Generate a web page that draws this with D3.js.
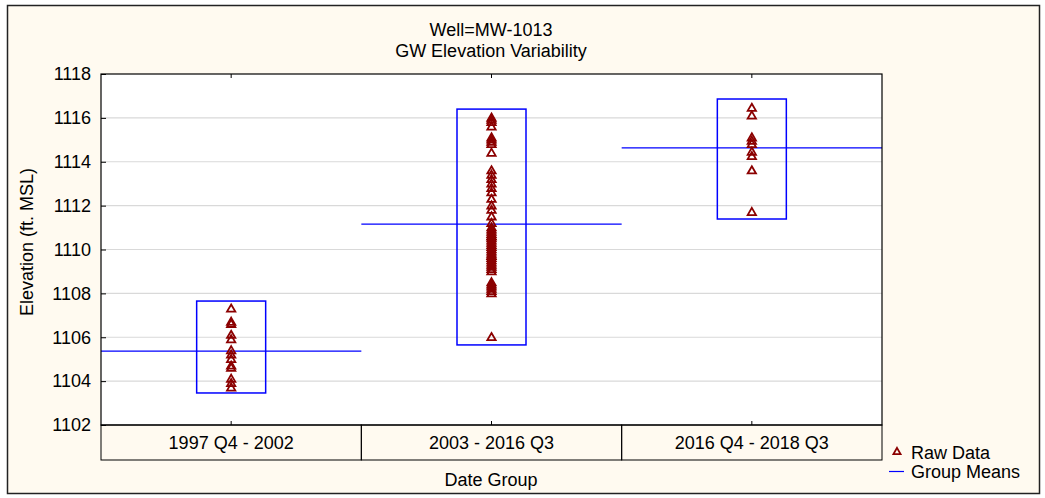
<!DOCTYPE html>
<html>
<head>
<meta charset="utf-8">
<script src="https://cdn.jsdelivr.net/npm/d3@7"></script>
<style>
  html, body { margin: 0; padding: 0; background: #ffffff; }
  svg { display: block; font-family: "Liberation Sans", Arial, sans-serif; }
</style>
</head>
<body>
<svg id="chart" width="1045" height="498"></svg>
<script>
// ---- data ----
const titleLines = ["Well=MW-1013", "GW Elevation Variability"];
const categories = ["1997 Q4 - 2002", "2003 - 2016 Q3", "2016 Q4 - 2018 Q3"];
const group1 = [1107.3, 1106.7, 1106.6, 1106.1, 1105.9, 1105.4, 1105.2, 1105.0, 1104.7, 1104.6, 1104.1, 1103.9, 1103.7];
const group2 = [1116.0, 1115.9, 1115.8, 1115.6, 1115.1, 1115.0, 1114.9, 1114.8, 1114.4, 1113.6, 1113.4, 1113.2,
                1113.0, 1112.8, 1112.6, 1112.3, 1112.0, 1111.8, 1111.5, 1111.2, 1111.0, 1110.9, 1110.8, 1110.7,
                1110.6, 1110.6, 1110.5, 1110.4, 1110.3, 1110.2, 1110.1, 1110.0, 1109.9, 1109.8, 1109.7, 1109.7,
                1109.6, 1109.5, 1109.4, 1109.3, 1109.2, 1109.1, 1109.0, 1108.5, 1108.4, 1108.3, 1108.2, 1108.1,
                1108.0, 1106.0];
const group3 = [1116.45, 1116.1, 1115.1, 1114.95, 1114.8, 1114.45, 1114.25, 1113.6, 1111.7];
const groupMeans = [1105.37, 1111.16, 1114.63];
const boxHigh = [1107.65, 1116.4, 1116.86];
const boxLow = [1103.46, 1105.65, 1111.39];
const yTicks = [1102, 1104, 1106, 1108, 1110, 1112, 1114, 1116, 1118];
const yLabel = "Elevation (ft. MSL)";
const xLabel = "Date Group";
const legendLabels = ["Raw Data", "Group Means"];

// ---- layout ----
const svg = d3.select("#chart");
const W = 1045, H = 498;
const plot = { left: 101, right: 882, top: 74, bottom: 425 };
const catBandBottom = 460;
const red = "#8b0000", blue = "#0000ff";
const FS = 18;

// background + frame
svg.append("rect").attr("x", 0).attr("y", 0).attr("width", W).attr("height", H).attr("fill", "#ffffff");
svg.append("rect").attr("x", 7.5).attr("y", 5.5).attr("width", 1032).attr("height", 488)
  .attr("fill", "#fffaf0").attr("stroke", "#222").attr("stroke-width", 1.5);

const x = d3.scaleBand().domain(categories).range([plot.left, plot.right]).padding(0);
const y = d3.scaleLinear().domain([1102, 1118]).range([plot.bottom, plot.top]);

// plot background
svg.append("rect").attr("x", plot.left).attr("y", plot.top)
  .attr("width", plot.right - plot.left).attr("height", plot.bottom - plot.top)
  .attr("fill", "#ffffff");

// gridlines
svg.append("g").selectAll("line").data(yTicks.filter(t => t > 1102 && t < 1118)).join("line")
  .attr("x1", plot.left).attr("x2", plot.right)
  .attr("y1", d => y(d)).attr("y2", d => y(d))
  .attr("stroke", "#d9d9d9").attr("stroke-width", 1.2);

// y axis
const yAxis = d3.axisLeft(y).tickValues(yTicks).tickFormat(d3.format("d"))
  .tickSizeInner(-5).tickSizeOuter(0).tickPadding(10);
const gy = svg.append("g").attr("transform", `translate(${plot.left},0)`).call(yAxis);
gy.select(".domain").remove();
gy.selectAll("line").attr("stroke", "#000");
gy.selectAll("text").attr("font-size", FS).attr("fill", "#000")
  .attr("font-family", "Liberation Sans, Arial, sans-serif");

// category label band
const gCat = svg.append("g");
gCat.selectAll("rect").data(categories).join("rect")
  .attr("x", d => x(d)).attr("y", plot.bottom)
  .attr("width", x.bandwidth()).attr("height", catBandBottom - plot.bottom)
  .attr("fill", "none").attr("stroke", "#000").attr("stroke-width", 1);
gCat.selectAll("text").data(categories).join("text")
  .attr("x", d => x(d) + x.bandwidth() / 2).attr("y", (plot.bottom + catBandBottom) / 2 + 6.5)
  .attr("text-anchor", "middle").attr("font-size", FS).text(d => d);

// x ticks at top and bottom
svg.append("g").selectAll("line").data(categories).join("line")
  .attr("x1", d => x(d) + x.bandwidth() / 2).attr("x2", d => x(d) + x.bandwidth() / 2)
  .attr("y1", plot.top).attr("y2", plot.top + 4).attr("stroke", "#000");
svg.append("g").selectAll("line").data(categories).join("line")
  .attr("x1", d => x(d) + x.bandwidth() / 2).attr("x2", d => x(d) + x.bandwidth() / 2)
  .attr("y1", plot.bottom).attr("y2", plot.bottom - 4).attr("stroke", "#000");

// boxes
const boxHalf = 34.5;
svg.append("g").selectAll("rect").data(categories).join("rect")
  .attr("x", d => x(d) + x.bandwidth() / 2 - boxHalf)
  .attr("y", (d, i) => y(boxHigh[i]))
  .attr("width", boxHalf * 2)
  .attr("height", (d, i) => y(boxLow[i]) - y(boxHigh[i]))
  .attr("fill", "none").attr("stroke", blue).attr("stroke-width", 1.5);

// mean lines
svg.append("g").selectAll("line").data(categories).join("line")
  .attr("x1", d => x(d)).attr("x2", d => x(d) + x.bandwidth())
  .attr("y1", (d, i) => y(groupMeans[i])).attr("y2", (d, i) => y(groupMeans[i]))
  .attr("stroke", blue).attr("stroke-width", 1.3);

// raw data triangles
const tri = d3.symbol().type(d3.symbolTriangle).size(30);
const points = [];
[group1, group2, group3].forEach((g, i) => g.forEach(v => points.push({ cat: categories[i], v })));
svg.append("g").selectAll("path").data(points).join("path")
  .attr("d", tri)
  .attr("transform", d => `translate(${x(d.cat) + x.bandwidth() / 2},${y(d.v) + 0.5})`)
  .attr("fill", "none").attr("stroke", red).attr("stroke-width", 1.8);

// plot frame
svg.append("rect").attr("x", plot.left).attr("y", plot.top)
  .attr("width", plot.right - plot.left).attr("height", plot.bottom - plot.top)
  .attr("fill", "none").attr("stroke", "#000").attr("stroke-width", 1.2);

// titles
svg.append("g").selectAll("text").data(titleLines).join("text")
  .attr("x", 491).attr("y", (d, i) => 35.5 + i * 21)
  .attr("text-anchor", "middle").attr("font-size", FS).text(d => d);

// axis labels
svg.append("text").attr("x", 491).attr("y", 486).attr("text-anchor", "middle")
  .attr("font-size", FS).text(xLabel);
svg.append("text").attr("transform", `translate(33,242) rotate(-90)`)
  .attr("text-anchor", "middle").attr("font-size", FS).text(yLabel);

// legend
const lg = svg.append("g");
lg.append("path").attr("d", d3.symbol().type(d3.symbolTriangle).size(22))
  .attr("transform", "translate(897,452)")
  .attr("fill", "none").attr("stroke", red).attr("stroke-width", 1.8);
lg.append("line").attr("x1", 889).attr("x2", 904).attr("y1", 471.5).attr("y2", 471.5)
  .attr("stroke", blue).attr("stroke-width", 1.2);
lg.selectAll("text").data(legendLabels).join("text")
  .attr("x", 911).attr("y", (d, i) => 458.5 + i * 19)
  .attr("font-size", FS).text(d => d);
</script>
</body>
</html>
